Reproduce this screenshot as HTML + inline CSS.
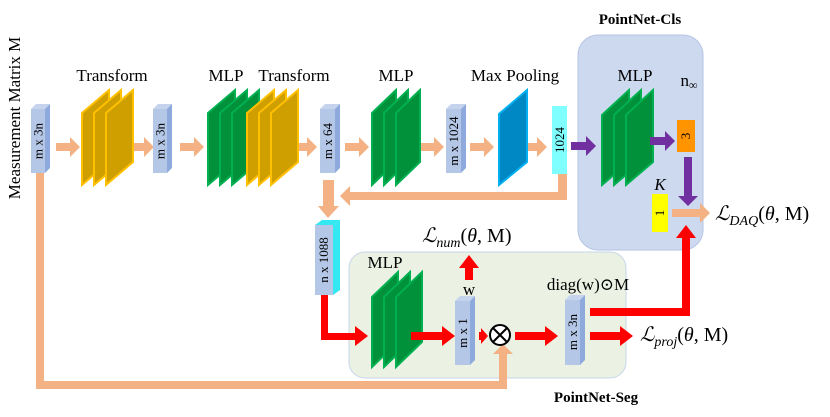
<!DOCTYPE html>
<html><head><meta charset="utf-8"><style>
html,body{margin:0;padding:0;background:#fff;}
svg{display:block;}
text{font-family:"Liberation Serif","DejaVu Serif",serif;}
</style></head><body>
<svg width="830" height="417" viewBox="0 0 830 417" xmlns="http://www.w3.org/2000/svg" font-family="Liberation Serif, DejaVu Serif, serif">
<rect x="578" y="35" width="125" height="215" rx="20" fill="#cdd9ef" stroke="#b4c4e4"/>
<rect x="349" y="252" width="277" height="126" rx="16" fill="#ebf1e3" stroke="#c6d5ea"/>
<text x="640" y="24" font-size="15" font-weight="bold" text-anchor="middle">PointNet-Cls</text>
<text x="596" y="402" font-size="15" font-weight="bold" text-anchor="middle">PointNet-Seg</text>

<text transform="translate(20,118) rotate(-90)" font-size="17" text-anchor="middle">Measurement Matrix M</text>

<g font-size="17" text-anchor="middle">
<text x="112" y="81">Transform</text>
<text x="226" y="81">MLP</text>
<text x="294" y="81">Transform</text>
<text x="396" y="81">MLP</text>
<text x="515" y="81">Max Pooling</text>
<text x="635" y="81">MLP</text>
<text x="689" y="86">n<tspan font-size="12" dy="3">∞</tspan></text>
<text x="660" y="190" font-style="italic">K</text>
<text x="385" y="268">MLP</text>
<text x="469" y="295">w</text>
<text x="588" y="290">diag(w)⊙M</text>
</g>

<g fill="#f4b183">
<rect x="36" y="172" width="8" height="217"/>
<rect x="36" y="381" width="471" height="8"/>
<rect x="499" y="353" width="8" height="36"/>
<polygon points="493,354 503,344 513,354"/>
<rect x="558" y="174" width="9" height="26"/>
<rect x="350" y="192" width="217" height="8"/>
<polygon points="350,186 340,196 350,206"/>
<rect x="323" y="180" width="11" height="26"/>
<polygon points="318,206 328,218 339,206"/>
<polygon points="672,209 700,209 700,203 710,213 700,223 700,217 672,217"/>
<g id="pa"><polygon points="56,143 70,143 70,137 80,147 70,157 70,151 56,151"/></g>
<use href="#pa" x="74"/><use href="#pa" x="124"/><use href="#pa" x="237"/><use href="#pa" x="289"/><use href="#pa" x="364"/><use href="#pa" x="414"/><use href="#pa" x="467"/>
</g>

<g stroke-width="2">
<g fill="#cf9f00" stroke="#ffc000">
<polygon points="82,113 109,90 109,162 82,185"/>
<polygon points="94,113 121,90 121,162 94,185"/>
<polygon points="106,113 133,90 133,162 106,185"/>
</g>
<g fill="#00913a" stroke="#00b050">
<polygon points="208,113 235,90 235,162 208,185"/>
<polygon points="220,113 247,90 247,162 220,185"/>
<polygon points="232,113 259,90 259,162 232,185"/>
</g>
<g fill="#cf9f00" stroke="#ffc000">
<polygon points="247,113 274,90 274,162 247,185"/>
<polygon points="259,113 286,90 286,162 259,185"/>
<polygon points="271,113 298,90 298,162 271,185"/>
</g>
<g fill="#00913a" stroke="#00b050">
<polygon points="372,113 396,90 396,162 372,185"/>
<polygon points="384,113 408,90 408,162 384,185"/>
<polygon points="396,113 420,90 420,162 396,185"/>
</g>
<polygon points="499,114 527,90 527,162 499,185" fill="#0088c4" stroke="#00b0f0"/>
<g fill="#00913a" stroke="#00b050">
<polygon points="602,115 629,90 629,162 602,185"/>
<polygon points="614,115 641,90 641,162 614,185"/>
<polygon points="626,115 653,90 653,162 626,185"/>
</g>
<g fill="#00913a" stroke="#00b050">
<polygon points="372,297 398,272 398,342 372,367"/>
<polygon points="384,297 410,272 410,342 384,367"/>
<polygon points="396,297 422,272 422,342 396,367"/>
</g>
</g>

<g id="bx">
<polygon points="31,109 36,104 50,104 45,109" fill="#c5d3ed"/>
<polygon points="45,109 50,104 50,168 45,173" fill="#8ea9db"/>
<rect x="31" y="109" width="14" height="64" fill="#b4c7e7"/>
</g>
<use href="#bx" x="122"/>
<g>
<polygon points="320,109 325,104 340,104 335,109" fill="#c5d3ed"/>
<polygon points="335,109 340,104 340,168 335,173" fill="#8ea9db"/>
<rect x="320" y="109" width="15" height="64" fill="#b4c7e7"/>
<polygon points="446,109 451,104 466,104 461,109" fill="#c5d3ed"/>
<polygon points="461,109 466,104 466,168 461,173" fill="#8ea9db"/>
<rect x="446" y="109" width="15" height="64" fill="#b4c7e7"/>
<rect x="552" y="106" width="15" height="68" fill="#7fffff"/>
<rect x="677" y="120" width="18" height="32" fill="#ff9300"/>
<rect x="652" y="194" width="16" height="38" fill="#ffff00"/>
<polygon points="315,225 322,220 340,220 333,225" fill="#33e8f0"/>
<polygon points="333,225 340,220 340,290 333,295" fill="#33e8f0"/>
<rect x="315" y="225" width="18" height="70" fill="#b4c7e7"/>
<polygon points="455,301 460,296 475,296 470,301" fill="#c5d3ed"/>
<polygon points="470,301 475,296 475,360 470,365" fill="#8ea9db"/>
<rect x="455" y="301" width="15" height="64" fill="#b4c7e7"/>
<polygon points="565,300 570,295 585,295 580,300" fill="#c5d3ed"/>
<polygon points="580,300 585,295 585,360 580,365" fill="#8ea9db"/>
<rect x="565" y="300" width="15" height="65" fill="#b4c7e7"/>
</g>
<g font-size="13" text-anchor="middle">
<text transform="translate(42.5,141) rotate(-90)">m x 3n</text>
<text transform="translate(164.5,141) rotate(-90)">m x 3n</text>
<text transform="translate(332,141) rotate(-90)">m x 64</text>
<text transform="translate(458,141) rotate(-90)">m x 1024</text>
<text transform="translate(564,140) rotate(-90)">1024</text>
<text transform="translate(690,136) rotate(-90)">3</text>
<text transform="translate(664,213) rotate(-90)">1</text>
<text transform="translate(328,260) rotate(-90)">n x 1088</text>
<text transform="translate(467,333) rotate(-90)">m x 1</text>
<text transform="translate(577,332) rotate(-90)">m x 3n</text>
</g>

<g fill="#7030a0">
<polygon points="571,142 586,142 586,136 596,146 586,156 586,150 571,150"/>
<polygon points="650,137 665,137 665,131 675,141 665,151 665,145 650,145"/>
<polygon points="684,157 692,157 692,196 698,196 688,206 678,196 684,196"/>
</g>

<g fill="#ff0000">
<rect x="321" y="295" width="7" height="45"/>
<rect x="321" y="333" width="36" height="7"/>
<polygon points="355,326 368,336 355,346"/>
<polygon points="411,332 442,332 442,326 455,336 442,346 442,340 411,340"/>
<polygon points="465,280 465,268 459,268 469,255 479,268 473,268 473,280"/>
<polygon points="479,332 481,332 481,328 488,336 481,344 481,340 479,340"/>
<polygon points="515,332 545,332 545,326 558,336 545,346 545,340 515,340"/>
<polygon points="590,332 620,332 620,326 633,336 620,346 620,340 590,340"/>
<rect x="590" y="308" width="100" height="8"/>
<rect x="682" y="236" width="8" height="80"/>
<polygon points="676,238 686,225 696,238"/>
</g>
<circle cx="500" cy="335" r="10" fill="#fff" stroke="#000" stroke-width="2"/>
<line x1="493" y1="328" x2="507" y2="342" stroke="#000" stroke-width="2"/>
<line x1="507" y1="328" x2="493" y2="342" stroke="#000" stroke-width="2"/>

<g font-size="20">
<text x="715" y="220"><tspan font-style="italic">ℒ</tspan><tspan font-size="14" dy="5" font-style="italic">DAQ</tspan><tspan dy="-5">(</tspan><tspan font-style="italic">θ</tspan>, M)</text>
<text x="422" y="242"><tspan font-style="italic">ℒ</tspan><tspan font-size="14" dy="5" font-style="italic">num</tspan><tspan dy="-5">(</tspan><tspan font-style="italic">θ</tspan>, M)</text>
<text x="640" y="341"><tspan font-style="italic">ℒ</tspan><tspan font-size="14" dy="5" font-style="italic">proj</tspan><tspan dy="-5">(</tspan><tspan font-style="italic">θ</tspan>, M)</text>
</g>
</svg>
</body></html>
